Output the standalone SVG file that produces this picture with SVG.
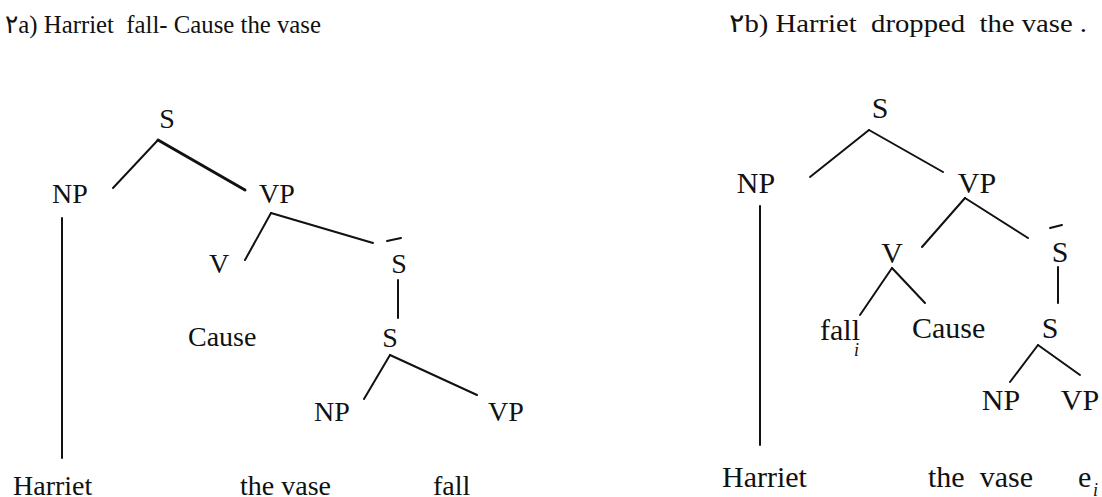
<svg xmlns="http://www.w3.org/2000/svg" width="1102" height="497" viewBox="0 0 1102 497">
  <style>
    text { font-family: "Liberation Serif", "Times New Roman", serif; fill: #111; white-space: pre; }
    .title { font-size: 26px; }
    .lab { font-size: 28px; text-anchor: middle; }
    .labR { font-size: 30px; text-anchor: middle; }
    .word { font-size: 28px; }
    .wordR { font-size: 30px; }
    .sub { font-size: 18px; font-style: italic; }
    .edge { stroke: #111; stroke-width: 2; fill: none; stroke-linecap: round; }
    .bold { stroke-width: 3; }
  </style>
  <rect width="1102" height="497" fill="#fff"/>

  <!-- headings -->
  <text class="title" x="5" y="33" textLength="316" lengthAdjust="spacingAndGlyphs">٢a) Harriet  fall- Cause the vase</text>
  <text class="title" x="729" y="32" textLength="358" lengthAdjust="spacingAndGlyphs">٢b) Harriet  dropped  the vase .</text>

  <!-- tree (a): underlying causative structure -->
  <g id="tree-a">
    <g id="a-S"><text class="lab" x="167" y="128">S</text></g>
    <g id="a-NP"><text class="lab" x="70" y="203">NP</text></g>
    <g id="a-VP"><text class="lab" x="277" y="203">VP</text></g>
    <g id="a-V"><text class="lab" x="219" y="273">V</text></g>
    <g id="a-Sbar"><text class="lab" x="399" y="273">S</text><line class="edge" x1="387" y1="241" x2="401" y2="238"/></g>
    <g id="a-Cause"><text class="word" x="188" y="346">Cause</text></g>
    <g id="a-S2"><text class="lab" x="390" y="347">S</text></g>
    <g id="a-NP2"><text class="lab" x="332" y="421">NP</text></g>
    <g id="a-VP2"><text class="lab" x="506" y="421">VP</text></g>
    <g id="a-Harriet"><text class="word" x="13" y="495">Harriet</text></g>
    <g id="a-vase"><text class="word" x="240" y="495">the vase</text></g>
    <g id="a-fall"><text class="word" x="433" y="495">fall</text></g>
  </g>

  <!-- tree (b): surface structure after raising -->
  <g id="tree-b">
    <g id="b-S"><text class="labR" x="880" y="118">S</text></g>
    <g id="b-NP"><text class="labR" x="756" y="193">NP</text></g>
    <g id="b-VP"><text class="labR" x="977" y="193">VP</text></g>
    <g id="b-V"><text class="labR" x="892" y="263">V</text></g>
    <g id="b-Sbar"><text class="labR" x="1060" y="262">S</text><line class="edge" x1="1050" y1="228" x2="1062" y2="225"/></g>
    <g id="b-fall"><text class="wordR" x="820" y="340">fall</text><text class="sub" x="854" y="356">i</text></g>
    <g id="b-Cause"><text class="wordR" x="912" y="338">Cause</text></g>
    <g id="b-S2"><text class="labR" x="1050" y="338">S</text></g>
    <g id="b-NP2"><text class="labR" x="1001" y="410">NP</text></g>
    <g id="b-VP2"><text class="labR" x="1080" y="410">VP</text></g>
    <g id="b-Harriet"><text class="wordR" x="722" y="487">Harriet</text></g>
    <g id="b-vase"><text class="wordR" x="928" y="487">the  vase</text></g>
    <g id="b-e"><text class="wordR" x="1078" y="487">e</text><text class="sub" x="1093" y="496">i</text></g>
  </g>

  <g id="connectors">
    <!-- tree (a) -->
    <line class="edge" x1="158" y1="140" x2="113" y2="188"/>
    <line class="edge bold" x1="158" y1="140" x2="245" y2="190"/>
    <line class="edge" x1="62" y1="218" x2="62" y2="458"/>
    <line class="edge" x1="271" y1="213" x2="245" y2="260"/>
    <line class="edge" x1="271" y1="213" x2="373" y2="243"/>
    <line class="edge" x1="398" y1="280" x2="398" y2="318"/>
    <line class="edge" x1="390" y1="355" x2="364" y2="399"/>
    <line class="edge" x1="390" y1="355" x2="477" y2="395"/>
    <!-- tree (b) -->
    <line class="edge" x1="869" y1="130" x2="810" y2="177"/>
    <line class="edge" x1="869" y1="130" x2="943" y2="172"/>
    <line class="edge" x1="760" y1="206" x2="760" y2="445"/>
    <line class="edge" x1="965" y1="198" x2="922" y2="247"/>
    <line class="edge" x1="965" y1="198" x2="1028" y2="238"/>
    <line class="edge" x1="1058" y1="267" x2="1058" y2="303"/>
    <line class="edge" x1="892" y1="268" x2="860" y2="315"/>
    <line class="edge" x1="892" y1="268" x2="925" y2="303"/>
    <line class="edge" x1="1038" y1="345" x2="1010" y2="382"/>
    <line class="edge" x1="1038" y1="345" x2="1080" y2="375"/>
  </g>
</svg>
